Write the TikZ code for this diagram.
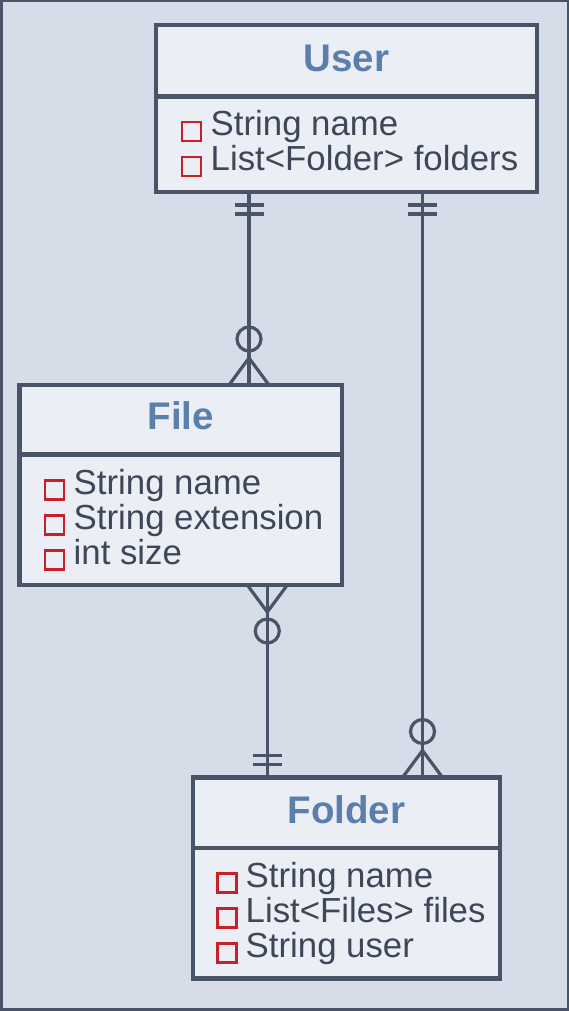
\documentclass[tikz,border=0pt]{standalone}
\usepackage{fontspec}
\setmainfont{Liberation Sans}
\definecolor{bg}{RGB}{214,221,232}
\definecolor{boxfill}{RGB}{235,239,245}
\definecolor{linec}{RGB}{74,84,105}
\definecolor{titlec}{RGB}{90,127,173}
\definecolor{textc}{RGB}{62,71,89}
\definecolor{keyred}{RGB}{200,32,40}
\begin{document}
\begin{tikzpicture}[x=1pt,y=-1pt,
  entity/.style={draw=linec, fill=boxfill, line width=4.2pt, inner sep=0pt, rectangle},
  divider/.style={draw=linec, line width=4.2pt},
  etitle/.style={text=titlec, font=\fontsize{38.5}{44}\selectfont\bfseries, anchor=base, inner sep=0pt},
  attr/.style={text=textc, font=\fontsize{34.8}{40}\selectfont, anchor=base west, inner sep=0pt},
  keybox/.style={draw=keyred, line width=2.6pt, fill=boxfill, minimum size=19pt, inner sep=0pt, rectangle},
  conn/.style={draw=linec, line width=3.2pt},
  onemark/.pic={\draw[conn] (-14.5,13) -- (14.5,13) (-14.5,22) -- (14.5,22);},
  manymark/.pic={\draw[conn] (0,46) circle[radius=12]; \draw[conn] (-20,0) -- (0,27) -- (20,0);}
]
\useasboundingbox (0,0) rectangle (569,1011);
\fill[bg] (0,0) rectangle (569,1011);
\draw[linec, line width=2.5pt] (1.25,1.25) rectangle (567.75,1009.5);

% User
\node[entity, minimum width=381pt, minimum height=167pt] (user) at (346.5,108.5) {};
\draw[divider] (156,96.5) -- (537,96.5);
\node[etitle] (usertitle) at (346.5,72) {User};
\node[keybox] (uk1) at (191.5,131.5) {};
\node[attr] (ua1) at (210.5,135.5) {String name};
\node[keybox] (uk2) at (191.5,166.5) {};
\node[attr] (ua2) at (210.5,170.5) {List<Folder> folders};

% File
\node[entity, minimum width=322.5pt, minimum height=200pt] (file) at (180.75,485) {};
\draw[divider] (19.5,454.5) -- (342,454.5);
\node[etitle] (filetitle) at (180.75,429) {File};
\node[keybox] (fk1) at (54.5,490) {};
\node[attr] (fa1) at (73.5,494) {String name};
\node[keybox] (fk2) at (54.5,525) {};
\node[attr] (fa2) at (73.5,529) {String extension};
\node[keybox] (fk3) at (54.5,560) {};
\node[attr] (fa3) at (73.5,564) {int size};

% Folder
\node[entity, minimum width=307pt, minimum height=201pt] (folder) at (346.5,878) {};
\draw[divider] (193,848) -- (500,848);
\node[etitle] (foldertitle) at (346.5,823) {Folder};
\node[keybox] (dk1) at (227,883) {};
\node[attr] (da1) at (245.5,887) {String name};
\node[keybox] (dk2) at (227,918) {};
\node[attr] (da2) at (245.5,922) {List<Files> files};
\node[keybox] (dk3) at (227,953) {};
\node[attr] (da3) at (245.5,957) {String user};

% connector end points on the boxes
\coordinate (c1a) at (249,192);
\coordinate (c1b) at (249,385);
\coordinate (c2a) at (422.5,192);
\coordinate (c2b) at (422.5,777.5);
\coordinate (c3a) at (267.3,585);
\coordinate (c3b) at (267.3,777.5);

\draw[conn] (c1a) -- (c1b);
\pic at (c1a) {onemark};
\pic[yscale=-1] at (c1b) {manymark};

\draw[conn] (c2a) -- (c2b);
\pic at (c2a) {onemark};
\pic[yscale=-1] at (c2b) {manymark};

\draw[conn] (c3a) -- (c3b);
\pic at (c3a) {manymark};
\pic[yscale=-1] at (c3b) {onemark};
\end{tikzpicture}
\end{document}
